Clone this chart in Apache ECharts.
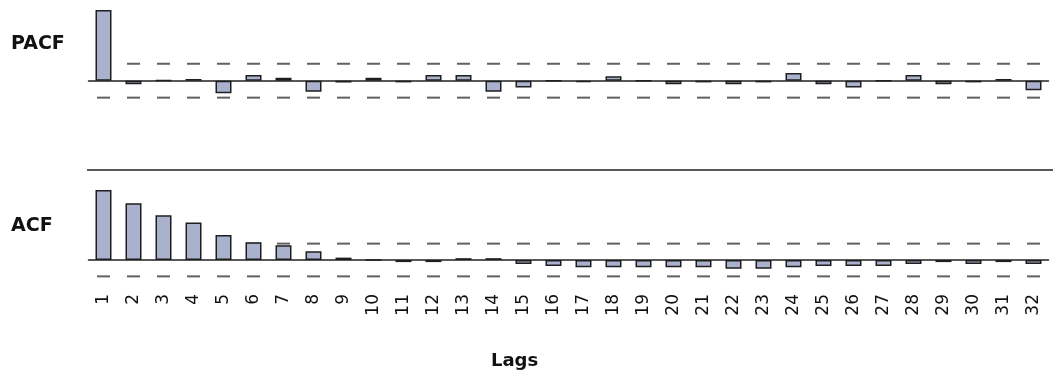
<!DOCTYPE html>
<html>
<head>
<meta charset="utf-8">
<script src="https://cdn.jsdelivr.net/npm/echarts@6/dist/echarts.min.js"></script>
<style>
html,body{margin:0;padding:0;background:#fff;}
#chart{width:1053px;height:379px;}
</style>
</head>
<body>
<div id="chart"></div>
<script>
// ---- data ----
const lags = ['1','2','3','4','5','6','7','8','9','10','11','12','13','14','15','16','17','18','19','20','21','22','23','24','25','26','27','28','29','30','31','32'];
const pacfValues = [0.505,-0.026,0.002,0.012,-0.090,0.040,0.021,-0.079,-0.013,0.021,-0.012,0.040,0.040,-0.079,-0.048,0.0,-0.010,0.031,0.0,-0.026,-0.012,-0.026,-0.012,0.055,-0.026,-0.048,0.0,0.040,-0.026,-0.012,0.012,-0.069];
const acfValues = [0.500,0.405,0.319,0.267,0.179,0.126,0.105,0.062,0.017,0.0,-0.015,-0.015,0.013,0.013,-0.029,-0.043,-0.052,-0.052,-0.052,-0.052,-0.052,-0.062,-0.062,-0.052,-0.043,-0.043,-0.043,-0.029,-0.015,-0.029,-0.015,-0.029];
const pacfBound = 0.121;
const acfBound = 0.117;
const panelTitles = ['PACF','ACF'];
const axisTitle = 'Lags';

// ---- chart ----
const chart = echarts.init(document.getElementById('chart'), null, {renderer:'canvas'});
const barColor = '#aab1cc';
const edge = '#1e1e1e';
const dashColor = '#3a3a3a';

function barSeries(idx, vals){
  return {
    type:'bar', xAxisIndex:idx, yAxisIndex:idx, data:vals, barWidth:16,
    itemStyle:{color:barColor, borderColor:edge, borderWidth:1.5},
    z:3, silent:true
  };
}
function dashSeries(idx, bound){
  return {
    type:'scatter', xAxisIndex:idx, yAxisIndex:idx, symbol:'rect', symbolSize:[13,2],
    data:lags.map((l,i)=>[i,bound]), itemStyle:{color:dashColor}, z:2, silent:true
  };
}

const option = {
  animation:false,
  backgroundColor:'#ffffff',
  grid:[
    {left:88.5, width:960, top:3.7, height:105},
    {left:88.5, width:960, top:183, height:105}
  ],
  xAxis:[0,1].map(i=>({
    type:'category', gridIndex:i, data:lags, boundaryGap:true,
    axisLine:{show:true, onZero:true, lineStyle:{color:'#222', width:1.5}},
    axisTick:{show:false}, splitLine:{show:false},
    axisLabel:{show:i===1, rotate:90, margin:6, interval:0, fontFamily:'DejaVu Sans', fontSize:17, color:'#111'}
  })),
  yAxis:[0,1].map(i=>({
    type:'value', gridIndex:i, min:-0.2, max:0.55, show:false, splitLine:{show:false}
  })),
  series:[
    dashSeries(0, pacfBound), dashSeries(0, -pacfBound), barSeries(0, pacfValues),
    dashSeries(1, acfBound), dashSeries(1, -acfBound), barSeries(1, acfValues)
  ],
  graphic:[
    {type:'text', left:11, top:35, style:{text:panelTitles[0], font:'bold 19px "DejaVu Sans"', fill:'#111'}},
    {type:'text', left:11, top:217, style:{text:panelTitles[1], font:'bold 19px "DejaVu Sans"', fill:'#111'}},
    {type:'text', left:491, top:352, style:{text:axisTitle, font:'bold 18px "DejaVu Sans"', fill:'#111'}},
    {type:'line', shape:{x1:87, y1:170, x2:1053, y2:170}, style:{stroke:'#222', lineWidth:1.5}}
  ]
};
chart.setOption(option);
</script>
</body>
</html>
